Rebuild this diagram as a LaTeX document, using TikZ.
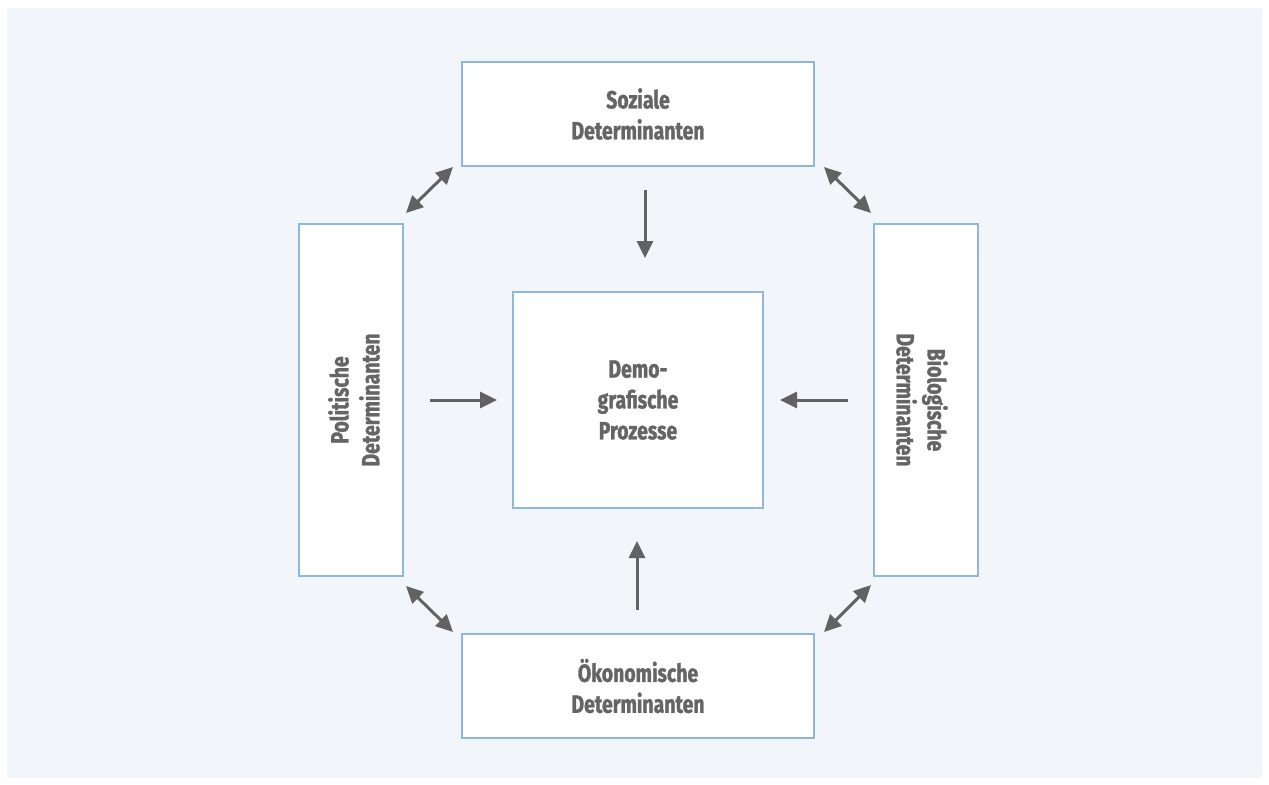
\documentclass[tikz,border=0pt]{standalone}
\usepackage{fontspec}
\setmainfont{Fira Sans}[FakeStretch=0.78, BoldFeatures={FakeBold=1.3}]
\usetikzlibrary{arrows.meta}
\definecolor{panel}{HTML}{F2F6FA}
\definecolor{boxline}{HTML}{8DB8DA}
\definecolor{arrowgray}{HTML}{626262}
\definecolor{textgray}{HTML}{656565}
\tikzset{
  box/.style={draw=boxline, line width=2.2bp, fill=white, inner sep=0pt, outer sep=0pt,
    align=center, text=textgray, font=\bfseries\fontsize{25}{31}\selectfont},
  conn/.style={draw=arrowgray, line width=3bp, -{Triangle[length=17bp,width=16bp]}},
  biconn/.style={draw=arrowgray, line width=3bp, {Triangle[length=17bp,width=16bp]}-{Triangle[length=17bp,width=16bp]}}
}
\begin{document}
\begin{tikzpicture}[x=1bp,y=-1bp]
\useasboundingbox (0,0) rectangle (1269,785);
\fill[panel] (7,8) rectangle (1262,778);
\node[box, minimum width=352bp, minimum height=104bp] (soz) at (638,114) {Soziale\\Determinanten};
\node[box, minimum width=352bp, minimum height=104bp] (oek) at (638,686) {Ökonomische\\Determinanten};
\node[box, minimum width=104bp, minimum height=352bp] (pol) at (351,400) {};
\node[box, minimum width=104bp, minimum height=352bp] (bio) at (926,400) {};
\node[box, minimum width=250bp, minimum height=216bp] (dem) at (638,400) {Demo-\\grafische\\Prozesse};
\node[text=textgray, font=\bfseries\fontsize{25}{31}\selectfont, align=center, rotate=90] (poltxt) at (354,400) {Politische\\Determinanten};
\node[text=textgray, font=\bfseries\fontsize{25}{31}\selectfont, align=center, rotate=-90] (biotxt) at (922,400) {Biologische\\Determinanten};
% arrows toward center
\coordinate (a1s) at (645,190); \coordinate (a1e) at (645,258);
\coordinate (a2s) at (637,610); \coordinate (a2e) at (637,541);
\coordinate (a3s) at (430,400); \coordinate (a3e) at (497,400);
\coordinate (a4s) at (848,400); \coordinate (a4e) at (780,400);
\draw[conn] (a1s) -- (a1e);
\draw[conn] (a2s) -- (a2e);
\draw[conn] (a3s) -- (a3e);
\draw[conn] (a4s) -- (a4e);
% double arrows between outer boxes
\coordinate (d1a) at (453,167); \coordinate (d1b) at (406,213);
\coordinate (d2a) at (824,167); \coordinate (d2b) at (871,213);
\coordinate (d3a) at (406,586); \coordinate (d3b) at (453,632);
\coordinate (d4a) at (824,632); \coordinate (d4b) at (871,585);
\draw[biconn] (d1a) -- (d1b);
\draw[biconn] (d2a) -- (d2b);
\draw[biconn] (d3a) -- (d3b);
\draw[biconn] (d4a) -- (d4b);
\end{tikzpicture}
\end{document}
